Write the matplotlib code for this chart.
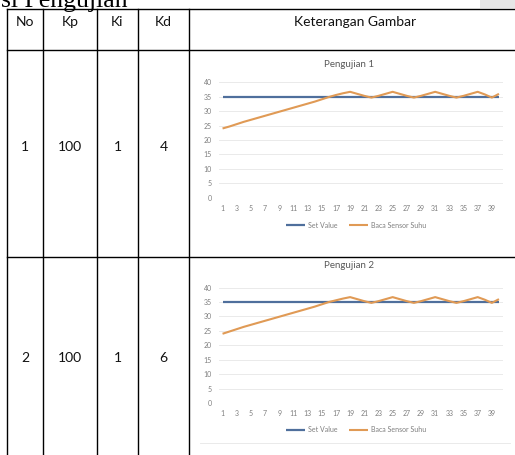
import matplotlib
matplotlib.use("Agg")
import matplotlib.pyplot as plt
from matplotlib.lines import Line2D
from matplotlib.patches import Rectangle

W, H = 515, 455

# ---- data ----
headers = ["No", "Kp", "Ki", "Kd", "Keterangan Gambar"]
rows = [["1", "100", "1", "4"], ["2", "100", "1", "6"]]
chart_titles = ["Pengujian 1", "Pengujian 2"]
x_points = list(range(1, 41))
set_value = [35] * 40
sensor_1 = [24.0, 24.7, 25.5, 26.3, 27.0, 27.7, 28.4, 29.1, 29.8, 30.5,
            31.2, 31.9, 32.6, 33.3, 34.1, 34.9, 35.6, 36.2, 36.7, 36.0,
            35.3, 34.7, 35.3, 36.0, 36.7, 36.0, 35.3, 34.7, 35.3, 36.0,
            36.7, 36.0, 35.3, 34.7, 35.3, 36.0, 36.7, 35.8, 34.7, 36.0]
sensor_2 = [24.0, 24.8, 25.6, 26.4, 27.1, 27.8, 28.5, 29.2, 29.9, 30.6,
            31.3, 32.0, 32.7, 33.4, 34.2, 35.0, 35.6, 36.2, 36.7, 36.0,
            35.3, 34.7, 35.3, 36.0, 36.7, 36.0, 35.3, 34.7, 35.3, 36.0,
            36.7, 36.0, 35.3, 34.7, 35.3, 36.0, 36.7, 35.8, 34.7, 36.0]
sensors = [sensor_1, sensor_2]
y_ticks = [0, 5, 10, 15, 20, 25, 30, 35, 40]
x_tick_labels = [str(i) for i in range(1, 40, 2)]
legend_labels = ["Set Value", "Baca Sensor Suhu"]

BLUE = "#4f6f9c"
ORANGE = "#e09a55"
GRAY_TXT = "#7f7f7f"

fig = plt.figure(figsize=(W / 100, H / 100), dpi=100)
fig.patch.set_facecolor("white")


def fx(x):
    return x / W


def fy(y):
    return 1 - y / H


def line(x0, y0, x1, y1, lw=1.0, color="black"):
    fig.add_artist(Line2D([fx(x0), fx(x1)], [fy(y0), fy(y1)], lw=lw,
                          color=color, transform=fig.transFigure))


# top cut-off title and gray box
fig.text(fx(1), fy(7.5), "si Pengujian", family="Liberation Serif",
         fontsize=18.5, va="baseline", ha="left", color="black")
fig.add_artist(Rectangle((fx(480), fy(8)), fx(515) - fx(480), fy(0) - fy(8),
                         transform=fig.transFigure, color="#e6e6e6", lw=0))

# table grid
col_x = [7, 43, 97, 138, 189]
row_y = [9, 50, 257]
for x in col_x:
    line(x, 9, x, 460)
for y in row_y:
    line(7, y, 520, y)

# header texts
hdr_cx = [25, 70, 117.5, 163.5, 355]
for cx, h in zip(hdr_cx, headers):
    fig.text(fx(cx), fy(22), h, family="Lato", fontsize=10, ha="center",
             va="center", color="#111111")

row_cy = [147, 358]
for cy, r in zip(row_cy, rows):
    for cx, v in zip(hdr_cx[:4], r):
        fig.text(fx(cx), fy(cy), v, family="Lato", fontsize=10, ha="center",
                 va="center", color="#111111")

# charts
plot_left, plot_right = 219, 502.5
charts_y = [(82.3, 197.7), (287.6, 403)]
title_y = [65, 266]
legend_y = [225, 430]

for i in range(2):
    top, bot = charts_y[i]
    ax = fig.add_axes([fx(plot_left), fy(bot), fx(plot_right) - fx(plot_left),
                       fy(top) - fy(bot)])
    ax.plot(x_points, set_value, color=BLUE, lw=1.6, label=legend_labels[0],
            solid_capstyle="butt")
    ax.plot(x_points, sensors[i], color=ORANGE, lw=1.5, label=legend_labels[1],
            solid_capstyle="butt")
    ax.set_xlim(0.5, 40.5)
    ax.set_ylim(0, 40)
    ax.set_yticks(y_ticks)
    ax.set_xticks(list(range(1, 40, 2)))
    ax.set_xticklabels(x_tick_labels)
    ax.tick_params(length=0, labelsize=5, labelcolor=GRAY_TXT, pad=5)
    for lab in ax.get_xticklabels() + ax.get_yticklabels():
        lab.set_family("Lato")
    ax.grid(axis="y", color="#e6e6e6", lw=0.6)
    ax.set_axisbelow(True)
    for s in ax.spines.values():
        s.set_visible(False)
    ax.patch.set_alpha(0)
    fig.text(fx(349), fy(title_y[i]), chart_titles[i], family="Lato",
             fontsize=7, color="#595959", ha="center", va="center")
    leg = ax.legend(loc="center", bbox_to_anchor=(fx(356), fy(legend_y[i])),
                    bbox_transform=fig.transFigure, ncol=2, frameon=False,
                    fontsize=5, handlelength=2.8, columnspacing=1.6,
                    handletextpad=0.4, borderaxespad=0, borderpad=0)
    for t in leg.get_texts():
        t.set_color(GRAY_TXT)
        t.set_family("Lato")

line(200, 443, 510, 443, lw=0.6, color="#e6e6e6")

fig.savefig("out.png", dpi=100)
